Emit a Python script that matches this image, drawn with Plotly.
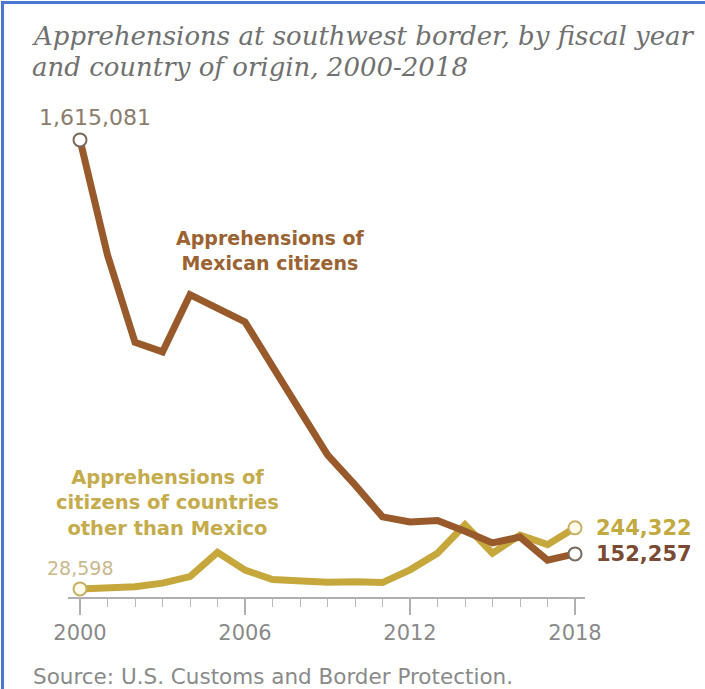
import plotly.graph_objects as go

years = list(range(2000, 2019))
mexico = [1615081, 1208000, 900000, 866000, 1068000, 1020000, 972000, 815000,
          662000, 502000, 396000, 283000, 265000, 270000, 232000, 191000,
          212000, 130000, 152257]
other = [28598, 32000, 36000, 49000, 72000, 158000, 95000, 62000, 55000,
         52000, 54000, 51000, 96000, 155000, 255000, 155000, 219000, 185000,
         244322]
tick_years = [2000, 2006, 2012, 2018]

MEX = "#995a2b"
OTM = "#c6a73c"

W, H = 705, 689
L, R, T, B = 68, 585, 130, 597

def px(x):
    return (x - L) / (R - L)

def py(y):
    return (B - y) / (B - T)

fig = go.Figure()
fig.add_trace(go.Scatter(x=years, y=other, mode="lines",
                         line=dict(color=OTM, width=7), hoverinfo="skip"))
fig.add_trace(go.Scatter(x=years, y=mexico, mode="lines",
                         line=dict(color=MEX, width=7), hoverinfo="skip"))
# endpoint markers
fig.add_trace(go.Scatter(x=[years[0], years[-1]], y=[other[0], other[-1]],
                         mode="markers", cliponaxis=False,
                         marker=dict(size=13, color="#fffbe8",
                                     line=dict(color="#c8b068", width=2))))
fig.add_trace(go.Scatter(x=[years[0], years[-1]], y=[mexico[0], mexico[-1]],
                         mode="markers", cliponaxis=False,
                         marker=dict(size=13, color="#ffffff",
                                     line=dict(color="#7a6a5e", width=2))))

ann = []
title_font = dict(family="DejaVu Serif", size=26, color="#707070")
ann.append(dict(xref="paper", yref="paper", x=px(30), y=py(36), xanchor="left",
                yanchor="middle", showarrow=False,
                text="<i>Apprehensions at southwest border, by fiscal year</i>",
                font=title_font))
ann.append(dict(xref="paper", yref="paper", x=px(30), y=py(67), xanchor="left",
                yanchor="middle", showarrow=False,
                text="<i>and country of origin, 2000-2018</i>",
                font=title_font))
ann.append(dict(xref="x", yref="y", x=years[0], y=mexico[0], yshift=8,
                xshift=15, xanchor="center", yanchor="bottom", showarrow=False,
                text=f"{mexico[0]:,}",
                font=dict(family="DejaVu Sans", size=22, color="#8c7c6c")))
ann.append(dict(xref="x", yref="y", x=years[0], y=other[0], yshift=8,
                xanchor="center", yanchor="bottom", showarrow=False,
                text=f"{other[0]:,}",
                font=dict(family="DejaVu Sans", size=19, color="#c9b98e")))
ann.append(dict(xref="x", yref="y", x=years[-1], y=other[-1], xshift=19,
                xanchor="left", yanchor="middle", showarrow=False,
                text=f"<b>{other[-1]:,}</b>",
                font=dict(family="DejaVu Sans", size=21, color="#c2a940")))
ann.append(dict(xref="x", yref="y", x=years[-1], y=mexico[-1], xshift=19,
                xanchor="left", yanchor="middle", showarrow=False,
                text=f"<b>{mexico[-1]:,}</b>",
                font=dict(family="DejaVu Sans", size=21, color="#7a4a32")))
ann.append(dict(xref="paper", yref="paper", x=px(270), y=py(250),
                xanchor="center", yanchor="middle", showarrow=False,
                text="<b>Apprehensions of<br>Mexican citizens</b>",
                font=dict(family="DejaVu Sans", size=19, color="#9b6232")))
ann.append(dict(xref="paper", yref="paper", x=px(167), y=py(503),
                xanchor="center", yanchor="middle", showarrow=False,
                text="<b>Apprehensions of<br>citizens of countries<br>other than Mexico</b>",
                font=dict(family="DejaVu Sans", size=19.5, color="#c4ab4c")))
ann.append(dict(xref="paper", yref="paper", x=px(31), y=py(676),
                xanchor="left", yanchor="middle", showarrow=False,
                text="Source: U.S. Customs and Border Protection.",
                font=dict(family="DejaVu Sans", size=21.5, color="#8a8a8a")))

shapes = [
    dict(type="line", xref="paper", yref="paper", x0=px(2.5), x1=px(2.5),
         y0=py(1), y1=py(H + 5), line=dict(color="#4a78d0", width=3)),
    dict(type="line", xref="paper", yref="paper", x0=px(1), x1=px(W + 5),
         y0=py(2.5), y1=py(2.5), line=dict(color="#4a78d0", width=3)),
]

fig.update_layout(
    width=W, height=H, showlegend=False,
    margin=dict(l=L, r=W - R, t=T, b=H - B, pad=0),
    paper_bgcolor="white", plot_bgcolor="white",
    annotations=ann, shapes=shapes,
    xaxis=dict(range=[2000 - 12 / 27.5, 2018 + 10 / 27.5], tickvals=tick_years,
               ticks="outside", ticklen=16, tickcolor="#b0b0b0", tickwidth=1.5,
               showline=True, linecolor="#b0b0b0", linewidth=1.5,
               showgrid=False, zeroline=False,
               tickfont=dict(family="DejaVu Sans", size=21, color="#8a8a8a"),
               minor=dict(dtick=1, tick0=2000, ticks="outside", ticklen=8,
                          tickcolor="#b8b8b8", tickwidth=1.2, showgrid=False)),
    yaxis=dict(range=[0, 1650000], visible=False, showgrid=False, zeroline=False),
)

fig.write_html("out.html")
